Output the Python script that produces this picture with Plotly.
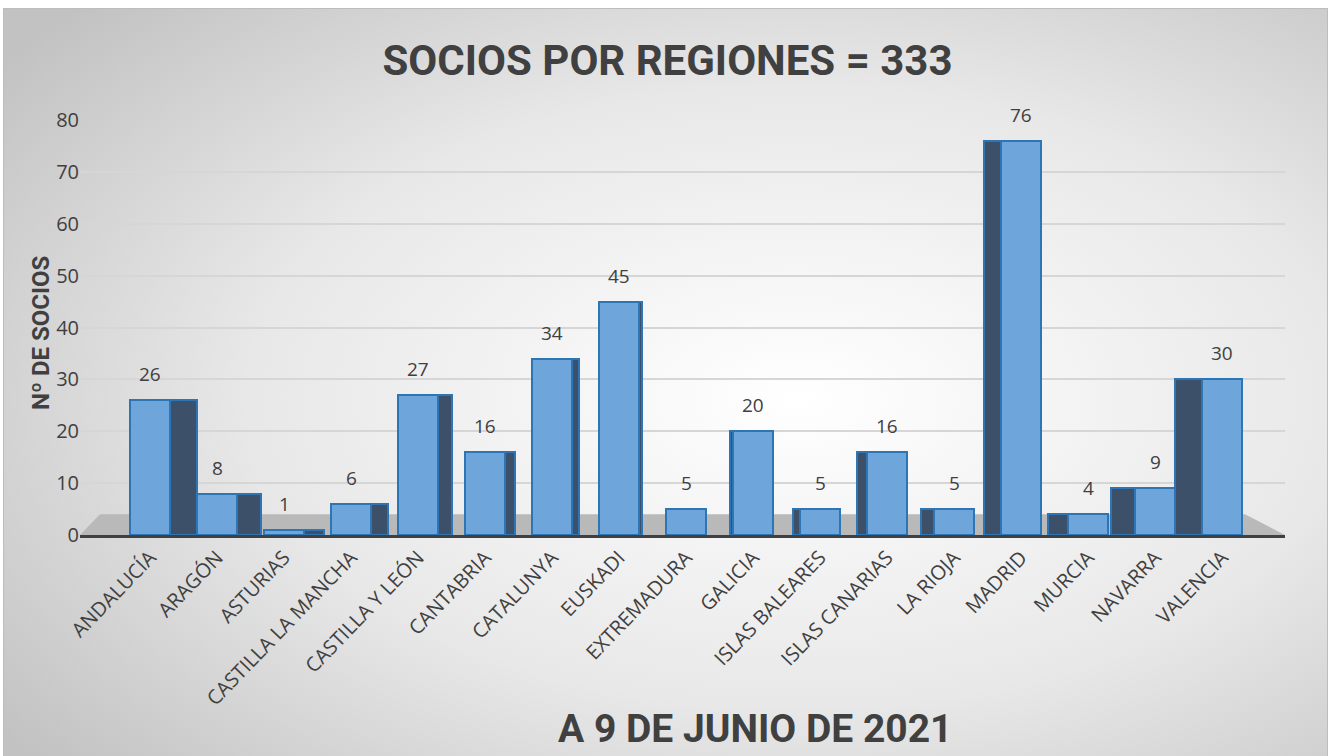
import base64
import plotly.graph_objects as go

# ---------------- data ----------------
categories = ["ANDALUCÍA", "ARAGÓN", "ASTURIAS", "CASTILLA LA MANCHA", "CASTILLA Y LEÓN",
              "CANTABRIA", "CATALUNYA", "EUSKADI", "EXTREMADURA", "GALICIA",
              "ISLAS BALEARES", "ISLAS CANARIAS", "LA RIOJA", "MADRID", "MURCIA",
              "NAVARRA", "VALENCIA"]
socios = [26, 8, 1, 6, 27, 16, 34, 45, 5, 20, 5, 16, 5, 76, 4, 9, 30]
y_ticks = [0, 10, 20, 30, 40, 50, 60, 70, 80]

title_text = "SOCIOS POR REGIONES = 333"
x_title = "A 9 DE JUNIO DE 2021"
y_title = "Nº DE SOCIOS"

# ---------------- styling ----------------
TXT = "#404040"
BOLD = "Roboto, Liberation Sans, sans-serif"
REG = "Open Sans, Noto Sans, sans-serif"
W, H = 1335, 756
ML, MR, MT, MB = 80, 50, 120, 221
PW, PH = W - ML - MR, H - MT - MB

n = len(categories)
front_w = 0.6
# perspective: side face shifts from right (left bars) to left (right bars)
side_offsets = [-front_w / 2 + (8 - i) * 0.05 for i in range(n)]

fig = go.Figure()
fig.add_trace(go.Bar(
    x=categories, y=socios, width=[front_w] * n, offset=side_offsets,
    marker=dict(color="#3d5069", line=dict(color="#2e75b6", width=2)),
    hoverinfo="skip", showlegend=False,
))
fig.add_trace(go.Bar(
    x=categories, y=socios, width=[front_w] * n, offset=[-front_w / 2] * n,
    marker=dict(color="#6ea5da", line=dict(color="#2e75b6", width=2)),
    showlegend=False,
))

for c, v in zip(categories, socios):
    fig.add_annotation(x=c, y=v, text=str(v), showarrow=False, yshift=26,
                       font=dict(family=REG, size=19, color=TXT))

# background gradient (decorative)
svg = ('<svg xmlns="http://www.w3.org/2000/svg" width="1325" height="750">'
       '<defs><radialGradient id="g" cx="0.6" cy="0.52" r="0.75">'
       '<stop offset="0" stop-color="#ffffff"/><stop offset="0.55" stop-color="#e8e8e8"/>'
       '<stop offset="1" stop-color="#c2c2c2"/></radialGradient></defs>'
       '<rect x="0.5" y="0.5" width="1324" height="749" fill="url(#g)" stroke="#bdbdbd"/></svg>')
src = "data:image/svg+xml;base64," + base64.b64encode(svg.encode()).decode()
fig.add_layout_image(source=src, xref="paper", yref="paper",
                     x=(3 - ML) / PW, y=(MT + PH - 8) / PH,
                     sizex=1325 / PW, sizey=750 / PH,
                     xanchor="left", yanchor="top", sizing="stretch", layer="below")


def px(xp):
    return (xp - ML) / PW


def py(yp):
    return (MT + PH - yp) / PH


# floor
fig.add_shape(type="path", xref="paper", yref="y",
              path=f"M {px(100)},4 L {px(1245)},4 L {px(1285)},0 L {px(80)},0 Z",
              fillcolor="#b9b9b9", line=dict(width=0), layer="below")

fig.add_annotation(x=px(755), y=py(729), xref="paper", yref="paper",
                   text=f"<b>{x_title}</b>", showarrow=False,
                   xanchor="center", yanchor="middle",
                   font=dict(family=BOLD, size=39, color=TXT))
fig.add_annotation(x=px(41), y=py(333), xref="paper", yref="paper",
                   text=f"<b>{y_title}</b>", showarrow=False, textangle=-90,
                   xanchor="center", yanchor="middle",
                   font=dict(family=BOLD, size=24, color=TXT))

fig.update_layout(
    width=W, height=H,
    margin=dict(l=ML, r=MR, t=MT, b=MB),
    paper_bgcolor="white", plot_bgcolor="rgba(0,0,0,0)",
    barmode="overlay", bargap=0,
    title=dict(text=f"<b>{title_text}</b>", x=0.5, xref="container", xanchor="center",
               y=1 - 60 / H, yref="container", yanchor="middle",
               font=dict(family=BOLD, size=42, color=TXT)),
    xaxis=dict(type="category", range=[-1.045, 16.94], tickangle=-46,
               tickfont=dict(family=REG, size=20, color=TXT),
               showline=True, linecolor="#404040", linewidth=3,
               showgrid=False, ticks="", fixedrange=True),
    yaxis=dict(range=[0, 80], tickvals=y_ticks, showgrid=True, gridcolor="#d6d6d6",
               gridwidth=1.5, zeroline=False, showline=False, ticks="",
               tickfont=dict(family=REG, size=20, color=TXT), fixedrange=True),
)

fig.write_html("out.html", post_script="document.body.style.margin='0';",
               config={"displayModeBar": False})
